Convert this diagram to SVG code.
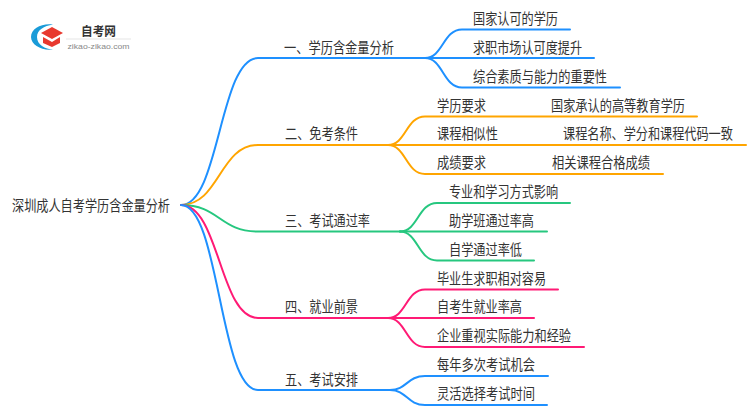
<svg xmlns="http://www.w3.org/2000/svg" width="750" height="410" viewBox="0 0 750 410">
<style>
text{font-family:"Noto Sans CJK SC","Liberation Sans",sans-serif;font-size:15px;fill:#333}
.c{fill:none;stroke-width:2;stroke-linecap:round}
.b{stroke:#1e90ff}.o{stroke:#ffa500}.g{stroke:#26c77f}.p{stroke:#ff1a75}
</style>
<rect width="750" height="410" fill="#fff"/>
<g id="logo">
<path d="M53 24.500C42 23 31 28 31 37C31 45 42 51 53 49.500C45 49 37 45 37 37C37 30 44 26 53 24.500Z" fill="#1a9bd8"/>
<path d="M52 27L63 33L52 39L41 33Z" fill="#e8392f"/>
<path d="M43 37L52 42L60 37V43L52 47L43 43Z" fill="#e8392f"/>
<text x="81" y="36" textLength="35" lengthAdjust="spacingAndGlyphs" style="font-size:12.500px;font-weight:700">自考网</text>
<path d="M66 39H131" stroke="#e5e5e5" stroke-width="1"/>
<text x="67.500" y="49" textLength="62" lengthAdjust="spacingAndGlyphs" style="font-family:'Liberation Sans',sans-serif;font-size:8px;fill:#888">zikao-zikao.com</text>
</g>
<g id="connectors">
<path class="c b" d="M181 205C219.500 205 219.500 58 258 58H425"/>
<path class="c o" d="M181 205C219.500 205 219.500 145 258 145H388"/>
<path class="c g" d="M181 205C219.500 205 219.500 231.500 258 231.500H400"/>
<path class="c p" d="M181 205C219.500 205 219.500 318 258 318H388"/>
<path class="c b" d="M181 205C219.500 205 219.500 390 258 390H390"/>
<path class="c b" d="M425 58C443 58 443 29.500 462 29.500H570"/>
<path class="c b" d="M425 58H594"/>
<path class="c b" d="M425 58C443 58 443 87.500 462 87.500H620"/>
<path class="c o" d="M388 145C406 145 406 116.500 425 116.500H697"/>
<path class="c o" d="M388 145H746"/>
<path class="c o" d="M388 145C406 145 406 174 425 174H663"/>
<path class="c g" d="M400 231.500C418 231.500 418 203 437 203H570"/>
<path class="c g" d="M400 231.500H547"/>
<path class="c g" d="M400 231.500C418 231.500 418 260.500 437 260.500H534"/>
<path class="c p" d="M388 318C406 318 406 289.500 425 289.500H558"/>
<path class="c p" d="M388 318H534"/>
<path class="c p" d="M388 318C406 318 406 347 425 347H584"/>
<path class="c b" d="M390 390C407 390 407 376 425 376H548"/>
<path class="c b" d="M390 390C407 390 407 405 425 405H547"/>
</g>
<g id="root"><text x="12" y="211" textLength="158" lengthAdjust="spacingAndGlyphs">深圳成人自考学历含金量分析</text></g>
<g id="n1"><text x="284" y="53" textLength="110" lengthAdjust="spacingAndGlyphs">一、学历含金量分析</text></g>
<g id="n1a"><text x="473" y="24" textLength="85" lengthAdjust="spacingAndGlyphs">国家认可的学历</text></g>
<g id="n1b"><text x="473" y="53" textLength="109" lengthAdjust="spacingAndGlyphs">求职市场认可度提升</text></g>
<g id="n1c"><text x="473" y="82" textLength="134" lengthAdjust="spacingAndGlyphs">综合素质与能力的重要性</text></g>
<g id="n2"><text x="285" y="139" textLength="73" lengthAdjust="spacingAndGlyphs">二、免考条件</text></g>
<g id="n2a"><text x="437" y="111" textLength="49" lengthAdjust="spacingAndGlyphs">学历要求</text></g>
<g id="n2a1"><text x="551" y="111" textLength="134" lengthAdjust="spacingAndGlyphs">国家承认的高等教育学历</text></g>
<g id="n2b"><text x="437" y="139" textLength="61" lengthAdjust="spacingAndGlyphs">课程相似性</text></g>
<g id="n2b1"><text transform="translate(563 139) scale(.81 1)">课程名称、学分和课程代码一致</text></g>
<g id="n2c"><text x="437" y="168" textLength="49" lengthAdjust="spacingAndGlyphs">成绩要求</text></g>
<g id="n2c1"><text x="552" y="168" textLength="98" lengthAdjust="spacingAndGlyphs">相关课程合格成绩</text></g>
<g id="n3"><text x="285" y="226" textLength="85" lengthAdjust="spacingAndGlyphs">三、考试通过率</text></g>
<g id="n3a"><text x="449" y="197" textLength="109" lengthAdjust="spacingAndGlyphs">专业和学习方式影响</text></g>
<g id="n3b"><text x="449" y="226" textLength="85" lengthAdjust="spacingAndGlyphs">助学班通过率高</text></g>
<g id="n3c"><text x="449" y="255" textLength="73" lengthAdjust="spacingAndGlyphs">自学通过率低</text></g>
<g id="n4"><text x="285" y="312" textLength="73" lengthAdjust="spacingAndGlyphs">四、就业前景</text></g>
<g id="n4a"><text x="437" y="284" textLength="109" lengthAdjust="spacingAndGlyphs">毕业生求职相对容易</text></g>
<g id="n4b"><text x="437" y="312" textLength="85" lengthAdjust="spacingAndGlyphs">自考生就业率高</text></g>
<g id="n4c"><text x="437" y="341" textLength="134" lengthAdjust="spacingAndGlyphs">企业重视实际能力和经验</text></g>
<g id="n5"><text x="285" y="385" textLength="73" lengthAdjust="spacingAndGlyphs">五、考试安排</text></g>
<g id="n5a"><text x="437" y="370" textLength="98" lengthAdjust="spacingAndGlyphs">每年多次考试机会</text></g>
<g id="n5b"><text x="437" y="399" textLength="98" lengthAdjust="spacingAndGlyphs">灵活选择考试时间</text></g>
</svg>
